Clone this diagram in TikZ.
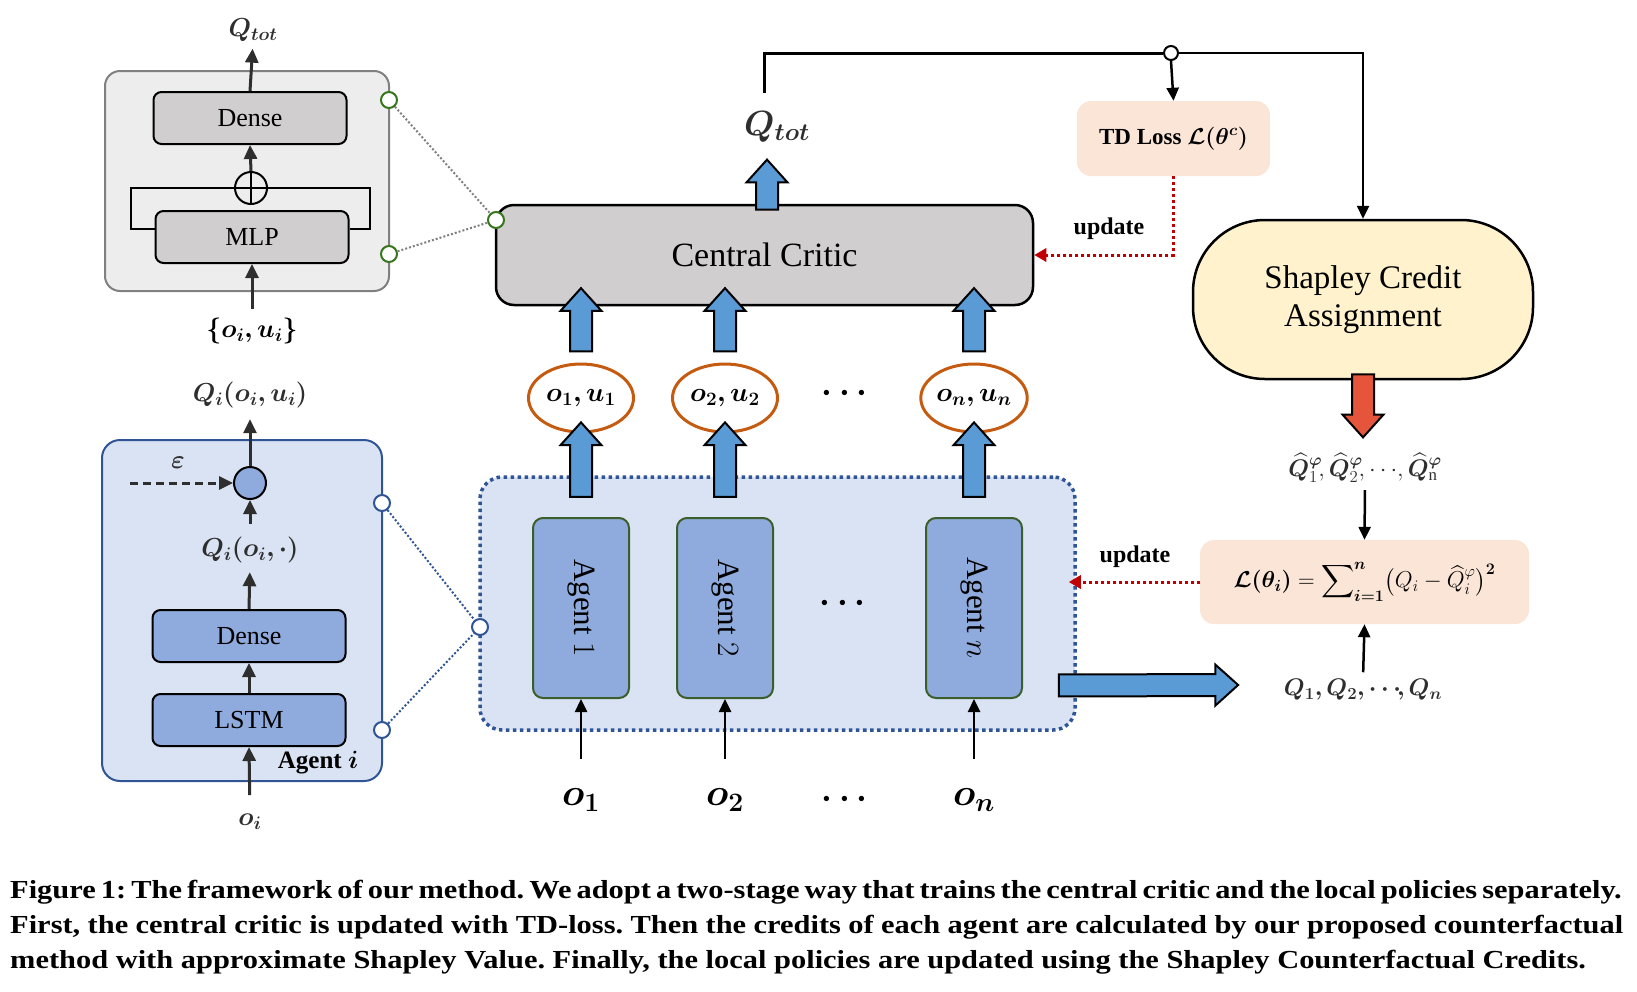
\RequirePackage{fix-cm}
\documentclass[tikz,border=0pt]{standalone}
\usepackage{amsmath,amssymb,bm}
\usepackage{fontspec}
\setmainfont{Liberation Serif}
\newfontfamily\captionfont[FakeStretch=1.17]{Liberation Serif}
\usepackage{tikz}
\usetikzlibrary{positioning,arrows.meta,calc,shapes.geometric,shapes.arrows}
\definecolor{panelgray}{HTML}{EDEDED}
\definecolor{framegray}{HTML}{808080}
\definecolor{layergray}{HTML}{D0CECE}
\definecolor{panelblue}{HTML}{DAE3F3}
\definecolor{layerblue}{HTML}{8FAADC}
\definecolor{edgeblue}{HTML}{2F5597}
\definecolor{arrowblue}{HTML}{5B9BD5}
\definecolor{pairorange}{HTML}{C55A11}
\definecolor{portgreen}{HTML}{38761D}
\definecolor{agentgreen}{HTML}{3B5E2B}
\definecolor{lossred}{HTML}{C00000}
\definecolor{shapyellow}{HTML}{FFF2CC}
\definecolor{losspeach}{HTML}{FBE5D6}
\definecolor{creditred}{HTML}{E5553C}
\definecolor{inkgray}{HTML}{2E2E2E}

\tikzset{
  mixpanel/.style={draw=framegray, fill=panelgray, line width=2, rounded corners=15},
  graylayer/.style={draw, fill=layergray, line width=2, rounded corners=8,
    minimum width=193, minimum height=52, font=\fontsize{26}{30}\selectfont},
  bluelayer/.style={graylayer, fill=layerblue},
  agentpanel/.style={draw=edgeblue, fill=panelblue, line width=2, rounded corners=18},
  agentsgroup/.style={draw=edgeblue, fill=panelblue, line width=3.5,
    dash pattern=on 3.5pt off 3.5pt, rounded corners=22},
  agentbox/.style={draw=agentgreen, fill=layerblue, line width=2, rounded corners=10,
    minimum width=96, minimum height=180, inner sep=0, font=\fontsize{31}{36}\selectfont},
  pairnode/.style={ellipse, draw=pairorange, line width=3, minimum width=105,
    minimum height=68, inner sep=0, font=\fontsize{27}{32}\selectfont},
  critic/.style={draw, fill=layergray, line width=2.5, rounded corners=18,
    minimum width=537, minimum height=100, font=\fontsize{34}{40}\selectfont},
  shapbox/.style={draw, fill=shapyellow, line width=2.5, rounded corners=72,
    minimum width=340, minimum height=159, align=center, font=\fontsize{33}{38}\selectfont},
  lossbox/.style={fill=losspeach, rounded corners=14},
  port/.style={circle, fill=white, line width=2, minimum size=16, inner sep=0},
  mathlabel/.style={text=inkgray, inner sep=1pt, font=\fontsize{26}{31}\selectfont},
  obslabel/.style={inner sep=1pt, font=\fontsize{38}{44}\selectfont},
  dotslabel/.style={font=\fontsize{34}{40}\selectfont},
  darkflow/.style={draw=inkgray, line width=3, -{Triangle[length=14pt,width=13pt]}},
  blackflow/.style={draw=black, line width=2.5, -{Triangle[length=13pt,width=12pt]}},
  updateflow/.style={draw=lossred, line width=3, dash pattern=on 3pt off 3pt,
    -{Triangle[length=12pt,width=13pt]}},
  graydots/.style={draw=framegray, line width=2, dash pattern=on 2pt off 2pt},
  bluedots/.style={draw=edgeblue, line width=2, dash pattern=on 2pt off 2pt},
  fatarrow/.style={single arrow, draw=black, line width=2, inner xsep=0, inner ysep=10,
    single arrow head extend=9.5, single arrow tip angle=84},
  captext/.style={inner sep=0, anchor=base west, font=\captionfont\bfseries\fontsize{26}{30}\selectfont},
  updatetext/.style={font=\bfseries\fontsize{24}{28}\selectfont}
}

% block arrow between two points
\newcommand{\fatarrow}[3][arrowblue]{%
  \path let \p1=#2, \p2=#3, \n1={veclen(\x2-\x1,\y2-\y1)} in
    #2 -- #3 node[fatarrow, fill=#1, midway, sloped, allow upside down, minimum height=\n1] {};}

\begin{document}
\frenchspacing
\begin{tikzpicture}[x=1pt,y=-1pt]
  \useasboundingbox (0,0) rectangle (1637,991);
  % Mixing network
  \node[mixpanel, minimum width=284, minimum height=220] (mixbox) at (247,181) {};
  \node[graylayer] (mixdense) at (250,118) {Dense};
  \node[graylayer] (mixmlp) at (252,237) {MLP};
  \node[circle, draw, line width=2, minimum size=32, inner sep=0] (plus) at (251,188) {};
  \draw[line width=2] (plus.north) -- (plus.south) (plus.west) -- (plus.east);
  \draw[line width=2] ($(mixmlp.west)+(0,-8)$) -- ++(-24,0) |- (plus.west);
  \draw[line width=2] ($(mixmlp.east)+(0,-8)$) -- ++(20,0) |- (plus.east);
  \node[mathlabel] (mixout) at (253,30) {$\bm{Q_{tot}}$};
  \node[mathlabel, text=black] (mixin) at (252,331) {$\bm{\{o_i,u_i\}}$};
  \draw[darkflow] (plus.north) -- (mixdense.south);
  \draw[darkflow, shorten >=6pt] (mixdense.north) -- (mixout.south);
  \draw[darkflow, shorten <=8pt] (mixin.north) -- (mixmlp.south);
  \node[port, draw=portgreen] (mixporta) at (389,100) {};
  \node[port, draw=portgreen] (mixportb) at (389,254) {};

  % Agent network
  \node[agentpanel, minimum width=280, minimum height=341] (agbox) at (242,610.5) {};
  \node[bluelayer] (lstm) at (249,720) {LSTM};
  \node[bluelayer] (dense) at (249,636) {Dense};
  \node[mathlabel] (qall) at (250,550) {$\bm{Q_i(o_i,\cdot)}$};
  \node[circle, draw, fill=layerblue, line width=2, minimum size=32, inner sep=0] (select) at (250,483) {};
  \node[mathlabel] (eps) at (178,463) {$\bm{\varepsilon}$};
  \coordinate (epsin) at (130,483);
  \node[mathlabel] (qout) at (250,395) {$\bm{Q_i(o_i,u_i)}$};
  \node[mathlabel] (oi) at (250,822) {$\bm{o_i}$};
  \node[font=\bfseries\fontsize{25}{30}\selectfont] (agname) at (318,763) {Agent $\bm{i}$};
  \draw[darkflow, shorten <=18pt] (oi.north) -- (lstm.south);
  \draw[darkflow] (lstm.north) -- (dense.south);
  \draw[darkflow, shorten >=8pt] (dense.north) -- (qall.south);
  \draw[darkflow, shorten <=12pt] (qall.north) -- (select.south);
  \draw[darkflow, shorten >=10pt] (select.north) -- (qout.south);
  \draw[darkflow, dash pattern=on 8pt off 5pt] (epsin) -- (select.west);
  \node[port, draw=edgeblue] (agporta) at (382,503) {};
  \node[port, draw=edgeblue] (agportb) at (382,730) {};

  % Agents and central critic
  \node[agentsgroup, minimum width=595, minimum height=253] (agents) at (777.5,603.5) {};
  \node[port, draw=edgeblue] (agentsport) at (480,627) {};
  \node[critic] (critic) at (764.5,255) {Central Critic};
  \node[port, draw=portgreen] (criticport) at (496,220) {};
  \foreach \c/\x in {1/581,2/725,n/974} {
    \node[agentbox] (ag\c) at (\x,608) {\rotatebox{-90}{Agent $\c$}};
    \node[pairnode] (pair\c) at (\x,398) {$\bm{o_\c,u_\c}$};
    \node[obslabel] (o\c) at (\x,800) {$\bm{o_\c}$};
    \draw[blackflow] ($(o\c.north)+(0,-29)$) -- (ag\c.south);
  }
  \node[dotslabel] at (848,393) {$\bm{\cdots}$};
  \node[dotslabel] at (846,603) {$\bm{\cdots}$};
  \node[dotslabel] at (848,799) {$\bm{\cdots}$};
  \node[obslabel, text=inkgray, font=\fontsize{35}{40}\selectfont] (qtot) at (777,127) {$\bm{Q_{tot}}$};

  % Dotted zoom lines
  \draw[graydots] (mixporta) -- (criticport);
  \draw[graydots] (mixportb) -- (criticport);
  \draw[bluedots] (agporta) -- (agentsport);
  \draw[bluedots] (agportb) -- (agentsport);

  % Block arrows
  \foreach \c in {1,2,n} {
    \fatarrow{($(ag\c.north)+(0,-14)$)}{($(pair\c.south)+(0,-5)$)}
    \fatarrow{($(pair\c.north)+(0,-5)$)}{($(critic.south -| pair\c.north)+(0,-12)$)}
  }
  \fatarrow{($(critic.north)+(2.5,12)$)}{($(critic.north)+(2.5,-38)$)}

  % Losses and credit assignment
  \node[lossbox, minimum width=193, minimum height=75, font=\fontsize{23}{28}\selectfont] (tdloss) at (1173.5,138.5)
    {\textbf{TD Loss} $\bm{\mathcal{L}(\theta^c)}$};
  \node[circle, draw, fill=white, line width=2, minimum size=14, inner sep=0] (junc) at (1171,53) {};
  \coordinate (fbstart) at (764,93);
  \node[shapbox] (shapley) at (1363,299.5) {Shapley Credit\\Assignment};
  \node[mathlabel, font=\fontsize{24}{29}\selectfont] (qhat) at (1365,468)
    {$\widehat{\bm{Q}}{}_1^{\bm{\varphi}}\!,\widehat{\bm{Q}}{}_2^{\bm{\varphi}}\!,\cdots\!,\widehat{\bm{Q}}{}_{\mathrm{n}}^{\bm{\varphi}}$};
  \node[lossbox, minimum width=329, minimum height=84, font=\fontsize{23}{28}\selectfont] (loss) at (1364.5,582)
    {$\bm{\mathcal{L}(\theta_i)} = \displaystyle\sum\nolimits_{\bm{i=1}}^{\bm{n}}\bigl(Q_i-\widehat{Q}{}_i^{\varphi}\bigr)^{\bm{2}}$};
  \node[mathlabel, font=\fontsize{24}{29}\selectfont] (qlist) at (1363,690) {$\bm{Q_1,Q_2,\cdots\!,Q_n}$};
  \coordinate (outtip) at (1232,685);

  \draw[blackflow, line width=3, -] (fbstart) |- (junc.west);
  \draw[blackflow] (junc.east) -| (shapley.north);
  \draw[blackflow] (junc.south) -- (tdloss.north);
  \draw[updateflow] (tdloss.south) |- (critic.east);
  \node[updatetext] at (1109,229) {update};
  \draw[updateflow] (loss.west) -- ($(agents.east |- loss.west)+(-8,0)$);
  \node[updatetext] at (1135,557) {update};
  \draw[blackflow, shorten <=6pt] (qhat.south) -- (loss.north);
  \draw[blackflow, shorten <=6pt] (qlist.north) -- (loss.south);
  \fatarrow[creditred]{($(shapley.south)+(0,-12)$)}{($(shapley.south)+(0,51)$)}
  \fatarrow{($(agents.east)+(-24,82)$)}{(outtip)}

  % Caption
  \node[captext] (cap1) at (10,898) {\makebox[1608pt][s]{Figure 1: The framework of our method. We adopt a two-stage way that trains the central critic and the local policies separately.}};
  \node[captext] (cap2) at (10,933) {\makebox[1613pt][s]{First, the central critic is updated with TD-loss. Then the credits of each agent are calculated by our proposed counterfactual}};
  \node[captext] (cap3) at (10,968) {method with approximate Shapley Value. Finally, the local policies are updated using the Shapley Counterfactual Credits.};
\end{tikzpicture}
\end{document}
